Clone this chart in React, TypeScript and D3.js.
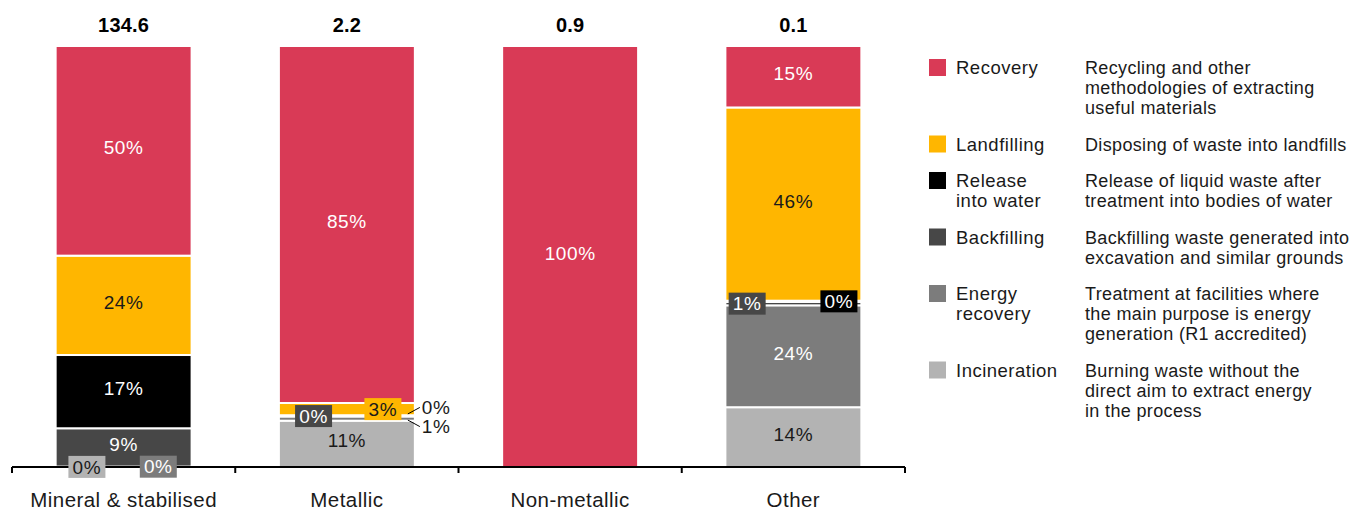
import React from "react";
import * as d3 from "d3";

const categories = ["Mineral & stabilised", "Metallic", "Non-metallic", "Other"];
const totals = [134.6, 2.2, 0.9, 0.1];
const seriesNames = ["Recovery", "Landfilling", "Release into water", "Backfilling", "Energy recovery", "Incineration"];
const recovery = [49.8, 84.8, 100, 14.6];
const landfilling = [23.6, 2.9, 0, 45.9];
const releaseWater = [17.4, 0.1, 0, 0.3];
const backfilling = [9.1, 0.2, 0, 0.8];
const energyRecovery = [0.05, 1.0, 0, 24.2];
const incineration = [0.05, 11.0, 0, 14.2];

const legendLabels = [
  ["Recovery"],
  ["Landfilling"],
  ["Release", "into water"],
  ["Backfilling"],
  ["Energy", "recovery"],
  ["Incineration"],
];
const legendDescriptions = [
  ["Recycling and other", "methodologies of extracting", "useful materials"],
  ["Disposing of waste into landfills"],
  ["Release of liquid waste after", "treatment into bodies of water"],
  ["Backfilling waste generated into", "excavation and similar grounds"],
  ["Treatment at facilities where", "the main purpose is energy", "generation (R1 accredited)"],
  ["Burning waste without the", "direct aim to extract energy", "in the process"],
];

const seriesValues = [recovery, landfilling, releaseWater, backfilling, energyRecovery, incineration];
const colors = ["#d93a56", "#ffb600", "#000000", "#474747", "#7c7c7c", "#b3b3b3"];
const textColors = ["#fff", "#1a1a1a", "#fff", "#fff", "#fff", "#1a1a1a"];

// label placement layout (not data)
type Place = { mode: "box" | "out"; fx?: number; dy?: number };
const placements: Record<string, Place> = {
  "0|Incineration": { mode: "box", fx: 0.23 },
  "0|Energy recovery": { mode: "box", fx: 0.755 },
  "1|Landfilling": { mode: "box", fx: 0.765 },
  "1|Backfilling": { mode: "box", fx: 0.255 },
  "1|Release into water": { mode: "out", dy: -8 },
  "1|Energy recovery": { mode: "out", dy: 8 },
  "3|Backfilling": { mode: "box", fx: 0.16 },
  "3|Release into water": { mode: "box", fx: 0.835 },
};

const FONT = "'Liberation Sans', Arial, Helvetica, sans-serif";
const VFS = 19;
const VLS = 0.6;

export default function App() {
  const W = 1360, H = 514;
  const x = d3.scaleBand<string>().domain(categories).range([12, 905]).paddingInner(0.391).paddingOuter(0.1955);
  const y = d3.scaleLinear().domain([0, 100]).range([467, 46]);

  const rows = categories.map((c, i) => {
    const o: any = { category: c };
    seriesNames.forEach((s, j) => (o[s] = seriesValues[j][i]));
    return o;
  });
  const stackKeys = [...seriesNames].reverse();
  const stacked = d3.stack<any>().keys(stackKeys)(rows);

  const step = x.step();
  const ticks = d3.range(categories.length + 1).map((i) => 12 + i * step);

  const rects: React.ReactNode[] = [];
  const labels: React.ReactNode[] = [];
  stacked.forEach((layer) => {
    const sIdx = seriesNames.indexOf(layer.key);
    layer.forEach((d, ci) => {
      const v = d[1] - d[0];
      const x0 = x(categories[ci])!;
      const bw = x.bandwidth();
      const yTop = y(d[1]);
      const yBot = y(d[0]);
      if (v > 0) {
        rects.push(
          <rect key={`r-${layer.key}-${ci}`} x={x0} y={yTop} width={bw} height={Math.max(0, yBot - yTop)}
            fill={colors[sIdx]} stroke="#fff" strokeWidth={2} />
        );
        const txt = `${Math.round(v)}%`;
        const cy = (yTop + yBot) / 2;
        const p = placements[`${ci}|${layer.key}`];
        if (!p) {
          labels.push(
            <text key={`t-${layer.key}-${ci}`} x={x0 + bw / 2} y={cy - 3} dy="0.35em" textAnchor="middle"
              fontSize={VFS} letterSpacing={VLS} fill={textColors[sIdx]} fontFamily={FONT}>{txt}</text>
          );
        } else if (p.mode === "box") {
          const cx = x0 + bw * (p.fx ?? 0.5);
          const bwid = 37, bh = 22;
          labels.push(
            <g key={`b-${layer.key}-${ci}`}>
              <rect x={cx - bwid / 2} y={cy - bh / 2} width={bwid} height={bh} fill={colors[sIdx]} />
              <text x={cx} y={cy} dy="0.35em" textAnchor="middle" fontSize={VFS} letterSpacing={VLS} fill={textColors[sIdx]} fontFamily={FONT}>{txt}</text>
            </g>
          );
        } else {
          const tx = x0 + bw + 7;
          const ty = cy + (p.dy ?? 0);
          labels.push(
            <g key={`o-${layer.key}-${ci}`}>
              <line x1={x0 + bw - 7} y1={cy + Math.sign(p.dy ?? 0) * 1.5} x2={tx - 2} y2={ty} stroke="#000" strokeWidth={1} />
              <text x={tx} y={ty} dy="0.35em" fontSize={VFS} letterSpacing={VLS} fill="#1a1a1a" fontFamily={FONT}>{txt}</text>
            </g>
          );
        }
      }
    });
  });

  // legend layout
  const legendX = 929, labelX = 956, descX = 1085, lineH = 20, gap = 16.5;
  let base = 74;
  const legendItems = seriesNames.map((s, i) => {
    const b = base;
    const n = Math.max(legendLabels[i].length, legendDescriptions[i].length);
    base += n * lineH + gap;
    return (
      <g key={`lg-${s}`}>
        <rect x={legendX} y={b - 15} width={17} height={17} fill={colors[i]} />
        {legendLabels[i].map((t, k) => (
          <text key={k} x={labelX} y={b + k * lineH} fontSize={18.5} letterSpacing={0.5} fill="#1a1a1a" fontFamily={FONT}>{t}</text>
        ))}
        {legendDescriptions[i].map((t, k) => (
          <text key={k} x={descX} y={b + k * lineH} fontSize={18} letterSpacing={0.35} fill="#1a1a1a" fontFamily={FONT}>{t}</text>
        ))}
      </g>
    );
  });

  return (
    <svg width={W} height={H} style={{ position: "absolute", left: 0, top: 0 }} fontFamily={FONT}>
      <rect width={W} height={H} fill="#fff" />
      {rects}
      <line x1={12} x2={905} y1={467} y2={467} stroke="#000" strokeWidth={2} />
      {ticks.map((t, i) => (
        <line key={`tk${i}`} x1={t} x2={t} y1={467} y2={473} stroke="#000" strokeWidth={2} />
      ))}
      {labels}
      {categories.map((c, i) => (
        <text key={`c${i}`} x={x(c)! + x.bandwidth() / 2} y={507} textAnchor="middle" fontSize={20.5} letterSpacing={0.45} fill="#1a1a1a">{c}</text>
      ))}
      {categories.map((c, i) => (
        <text key={`tot${i}`} x={x(c)! + x.bandwidth() / 2} y={32} textAnchor="middle" fontSize={20} letterSpacing={0.2} fontWeight="bold" fill="#000">{totals[i]}</text>
      ))}
      {legendItems}
    </svg>
  );
}
